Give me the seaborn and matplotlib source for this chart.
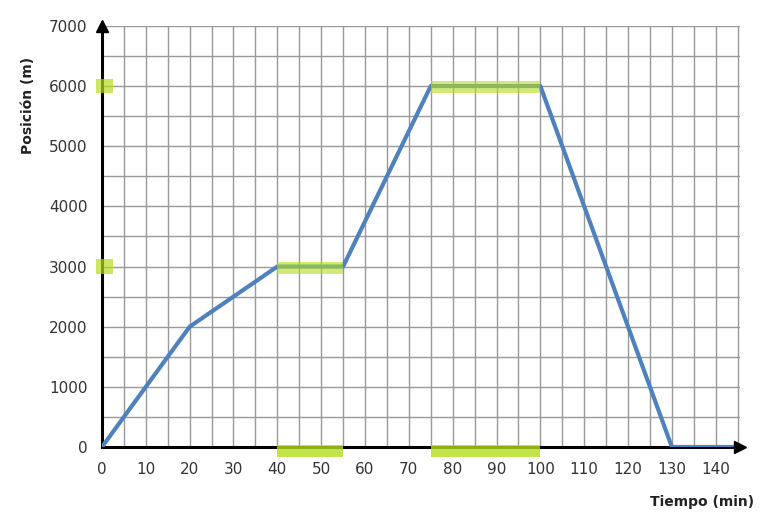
import numpy as np
import pandas as pd
import matplotlib
matplotlib.use("Agg")
import matplotlib.pyplot as plt
from matplotlib.patches import Rectangle
from matplotlib.ticker import MultipleLocator
import seaborn as sns

# data
tiempo = [0, 20, 40, 55, 75, 100, 130, 145]
posicion = [0, 2000, 3000, 3000, 6000, 6000, 0, 0]

# tramos en reposo (inicio, fin, posicion) resaltados en verde
reposo_inicio = [40, 75]
reposo_fin = [55, 100]
reposo_pos = [3000, 6000]

sns.set_style("white")
plt.rcParams['font.family'] = ['DejaVu Sans']

fig = plt.figure(figsize=(7.76, 5.29), dpi=100)
ax = fig.add_axes([0.1314, 0.155, 0.822, 0.796])

df = pd.DataFrame({'t': tiempo, 'x': posicion})
sns.lineplot(data=df, x='t', y='x', ax=ax, color='#4f81bd', linewidth=3.0,
             zorder=4, estimator=None, sort=False)

ax.set_xlim(0, 145.5)
ax.set_ylim(0, 7000)
ax.xaxis.set_major_locator(MultipleLocator(10))
ax.xaxis.set_minor_locator(MultipleLocator(5))
ax.yaxis.set_major_locator(MultipleLocator(1000))
ax.yaxis.set_minor_locator(MultipleLocator(500))
ax.grid(True, which='both', color='#999999', linewidth=1.0, zorder=0)
ax.set_axisbelow(True)

for s in ['top', 'right']:
    ax.spines[s].set_visible(False)
for s in ['left', 'bottom']:
    ax.spines[s].set_linewidth(2.2)
    ax.spines[s].set_color('black')
    ax.spines[s].set_zorder(3)

ax.tick_params(which='both', direction='inout', length=9, width=1.5, color='black')
ax.tick_params(axis='both', which='major', labelsize=11, labelcolor='#333333', pad=6)

# flechas de los ejes
ax.plot([0], [7000], marker='^', color='black', markersize=9, clip_on=False, zorder=6)
ax.plot([145.5], [0], marker='>', color='black', markersize=9, clip_on=False, zorder=6)

# resaltados verdes
verde = '#b5dc1e'
for a, b, p in zip(reposo_inicio, reposo_fin, reposo_pos):
    ax.add_patch(Rectangle((a, p - 120), b - a, 200, color=verde, alpha=0.6,
                           zorder=5, clip_on=False, linewidth=0))
    ax.add_patch(Rectangle((a, -170), b - a, 200, color=verde, alpha=0.8,
                           zorder=5, clip_on=False, linewidth=0))
    ax.add_patch(Rectangle((-1.3, p - 120), 3.8, 240, color=verde, alpha=0.7,
                           zorder=5, clip_on=False, linewidth=0))

ax.set_xlabel('Tiempo (min)', fontsize=10, fontweight='bold', color='#222222')
ax.xaxis.set_label_coords(0.94, -0.115)
ax.set_ylabel('Posición (m)', fontsize=10, fontweight='bold', color='#222222')
ax.yaxis.set_label_coords(-0.105, 0.81)

fig.savefig('out.png', dpi=100)
